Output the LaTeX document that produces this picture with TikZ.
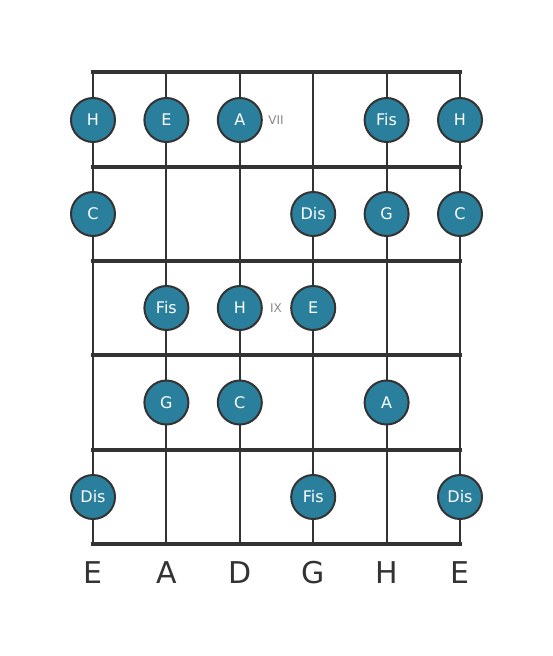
\documentclass[tikz,border=0pt]{standalone}
\usepackage{fontspec}
\setmainfont{DejaVu Sans}
\usepackage{tikz}

\definecolor{notefill}{HTML}{2A7F9C}
\definecolor{griddark}{HTML}{333333}
\definecolor{fretgray}{HTML}{888888}

\tikzset{
	note/.style={circle,draw=griddark,line width=2pt,fill=notefill,text=white,minimum size=44pt,inner sep=0pt,font=\fontsize{16}{16}\selectfont},
	fretno/.style={text=fretgray,font=\fontsize{12}{12}\selectfont},
	stringname/.style={text=griddark,font=\fontsize{30}{30}\selectfont},
	string/.style={griddark,line width=2pt},
	fret/.style={griddark,line width=4pt}
}

\begin{document}
\begin{tikzpicture}[x=1pt,y=-1pt]
		\useasboundingbox (0,0) rectangle (553,656);
		% strings
		\draw[string] (93,72) -- (93,544);
		\draw[string] (166.4,72) -- (166.4,544);
		\draw[string] (239.8,72) -- (239.8,544);
		\draw[string] (313.2,72) -- (313.2,544);
		\draw[string] (386.6,72) -- (386.6,544);
		\draw[string] (460,72) -- (460,544);
		% frets
		\draw[fret] (91,72) -- (462,72);
		\draw[fret] (91,166.5) -- (462,166.5);
		\draw[fret] (91,261) -- (462,261);
		\draw[fret] (91,355) -- (462,355);
		\draw[fret] (91,449.5) -- (462,449.5);
		\draw[fret] (91,544) -- (462,544);
		% fret VII
		\node[note] (h7) at (93,120) {H};
		\node[note] (e7) at (166.4,120) {E};
		\node[note] (a7) at (239.8,120) {A};
		\node[note] (fis7) at (386.6,120) {Fis};
		\node[note] (hh7) at (460,120) {H};
		\node[fretno] (vii) at (276,120) {VII};
		% fret VIII
		\node[note] (c8) at (93,214) {C};
		\node[note] (dis8) at (313.2,214) {Dis};
		\node[note] (g8) at (386.6,214) {G};
		\node[note] (cc8) at (460,214) {C};
		% fret IX
		\node[note] (fis9) at (166.4,308) {Fis};
		\node[note] (h9) at (239.8,308) {H};
		\node[note] (e9) at (313.2,308) {E};
		\node[fretno] (ix) at (276,308) {IX};
		% fret X
		\node[note] (g10) at (166.4,402.5) {G};
		\node[note] (c10) at (239.8,402.5) {C};
		\node[note] (a10) at (386.6,402.5) {A};
		% fret XI
		\node[note] (dis11) at (93,497) {Dis};
		\node[note] (fis11) at (313.2,497) {Fis};
		\node[note] (dd11) at (460,497) {Dis};
		% string names
		\node[stringname] (se) at (93,573) {E};
		\node[stringname] (sa) at (166.4,573) {A};
		\node[stringname] (sd) at (239.8,573) {D};
		\node[stringname] (sg) at (313.2,573) {G};
		\node[stringname] (sh) at (386.6,573) {H};
		\node[stringname] (see) at (460,573) {E};
\end{tikzpicture}
\end{document}
